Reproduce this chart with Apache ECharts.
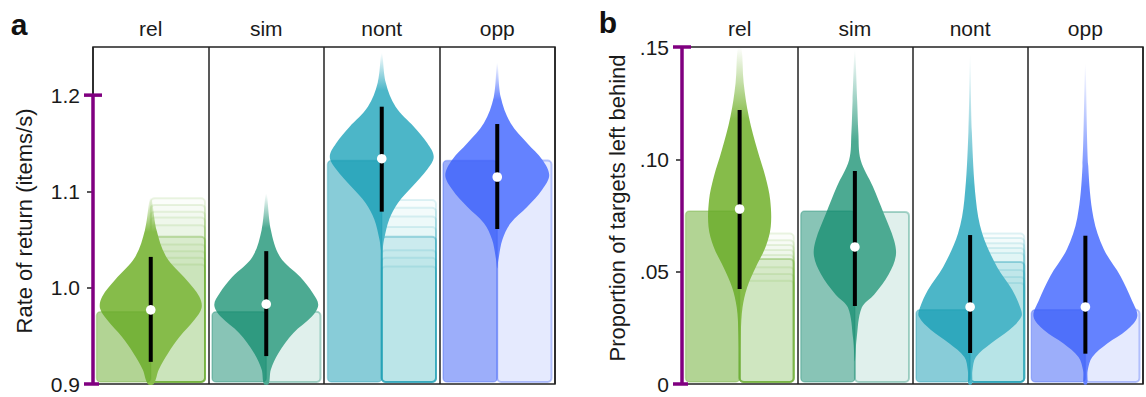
<!DOCTYPE html>
<html><head><meta charset="utf-8">
<script src="https://cdn.jsdelivr.net/npm/echarts@6/dist/echarts.min.js"></script>
<style>html,body{margin:0;padding:0;background:#fff}#c{width:1146px;height:397px}</style>
</head><body><div id="c"></div>
<script>
// ---------- data ----------
const categories = ['rel', 'sim', 'nont', 'opp'];
const barColors = ['#65a929', '#11896d', '#1199b1', '#395df5'];
const violinColors = ['#86bc4a', '#4caa92', '#4cb6c8', '#6482ff'];

// Panel a : rate of return
const aTickValues = [0.9, 1.0, 1.1, 1.2];
const aTickLabels = ['0.9', '1.0', '1.1', '1.2'];
const aAxisSpan = [0.9, 1.2];
const aMedian = [0.977, 0.983, 1.134, 1.115];
const aLow = [0.923, 0.929, 1.079, 1.061];
const aHigh = [1.032, 1.038, 1.188, 1.170];
const aLeftBar = [0.975, 0.975, 1.132, 1.132];
const aRightBar = [1.053, 0.975, 1.053, 1.132];
const aGhosts = [
  [1.093, 1.086, 1.079, 1.073, 1.065, 1.045, 1.038, 1.031, 1.024],
  [],
  [1.091, 1.083, 1.074, 1.063, 1.039, 1.031, 1.022],
  []
];
const aViolinFade = [1.058, 1.062, 1.205, 1.195];
const aViolins = [
  [[0.9, 0.05], [0.915, 0.14], [0.932, 0.30], [0.949, 0.50], [0.967, 0.76], [0.979, 0.88], [0.991, 0.84], [1.008, 0.62], [1.032, 0.27], [1.060, 0.10], [1.094, 0]],
  [[0.9, 0.04], [0.915, 0.08], [0.932, 0.21], [0.953, 0.47], [0.970, 0.79], [0.982, 0.90], [0.994, 0.81], [1.011, 0.59], [1.032, 0.24], [1.060, 0.08], [1.098, 0]],
  [[1.036, 0], [1.050, 0.04], [1.071, 0.13], [1.088, 0.28], [1.105, 0.53], [1.123, 0.79], [1.136, 0.90], [1.150, 0.79], [1.167, 0.56], [1.188, 0.24], [1.213, 0.07], [1.244, 0]],
  [[1.020, 0], [1.029, 0.02], [1.050, 0.09], [1.067, 0.23], [1.084, 0.52], [1.102, 0.78], [1.117, 0.90], [1.133, 0.78], [1.150, 0.52], [1.171, 0.23], [1.198, 0.06], [1.234, 0]]
];

// Panel b : proportion of targets left behind
const bTickValues = [0, 0.05, 0.10, 0.15];
const bTickLabels = ['0', '.05', '.10', '.15'];
const bAxisSpan = [0, 0.15];
const bMedian = [0.0779, 0.061, 0.0343, 0.0343];
const bLow = [0.0423, 0.0347, 0.0138, 0.0135];
const bHigh = [0.122, 0.0948, 0.0663, 0.066];
const bLeftBar = [0.077, 0.077, 0.033, 0.033];
const bRightBar = [0.0556, 0.0766, 0.0543, 0.033];
const bGhosts = [
  [0.067, 0.064, 0.0619, 0.0596, 0.0574, 0.052, 0.049, 0.046],
  [],
  [0.067, 0.065, 0.0627, 0.0605, 0.0583, 0.0507, 0.0476, 0.045],
  []
];
const bViolinFade = [0.118, 0.108, 0.088, 0.088];
const bViolins = [
  [[0.010, 0], [0.023, 0.02], [0.034, 0.05], [0.043, 0.13], [0.052, 0.28], [0.061, 0.45], [0.070, 0.54], [0.082, 0.53], [0.092, 0.45], [0.104, 0.31], [0.119, 0.16], [0.134, 0.07], [0.150, 0.03]],
  [[0.010, 0], [0.020, 0.03], [0.034, 0.12], [0.040, 0.34], [0.049, 0.59], [0.057, 0.71], [0.064, 0.68], [0.076, 0.50], [0.088, 0.31], [0.0997, 0.10], [0.112, 0.06], [0.126, 0.04], [0.149, 0]],
  [[0, 0.03], [0.006, 0.04], [0.012, 0.10], [0.018, 0.36], [0.024, 0.68], [0.030, 0.89], [0.034, 0.87], [0.042, 0.73], [0.052, 0.47], [0.067, 0.21], [0.082, 0.10], [0.112, 0.03], [0.147, 0]],
  [[0, 0.03], [0.006, 0.04], [0.012, 0.12], [0.018, 0.38], [0.024, 0.72], [0.030, 0.90], [0.037, 0.81], [0.048, 0.61], [0.060, 0.32], [0.074, 0.14], [0.097, 0.05], [0.143, 0]]
];

// ---------- rendering ----------
const FONT = "'Liberation Sans', Arial, sans-serif";
const TEXT = '#1a1a1a';
const PURPLE = '#800080';

function rgba(hex, a) {
  const n = parseInt(hex.slice(1), 16);
  return 'rgba(' + (n >> 16 & 255) + ',' + (n >> 8 & 255) + ',' + (n & 255) + ',' + a + ')';
}

function makePanel(P) {
  return function (params, api) {
    const i = api.value(0);
    const band = api.size([1, 0])[0];
    const base = api.coord([i, P.axisMin]);
    const cx = base[0];
    const yBase = base[1] - 2;
    const right = cx + band / 2 - 3.5;
    const left = cx - band / 2 + 3.5;
    const Y = v => api.coord([i, v])[1];
    const col = barColors[i];
    const ch = [];
    P.ghosts[i].forEach(g => {
      ch.push({ type: 'rect', shape: { x: cx, y: Y(g), width: right - cx, height: yBase - Y(g), r: 4 },
        style: { fill: rgba(col, 0.025), stroke: rgba(col, 0.13), lineWidth: 2 } });
    });
    ch.push({ type: 'rect', shape: { x: cx, y: Y(P.right[i]), width: right - cx, height: yBase - Y(P.right[i]), r: 4 },
      style: { fill: rgba(col, 0.13), stroke: rgba(col, 0.35), lineWidth: 2 } });
    const prof = P.violins[i];
    const pts = [];
    prof.forEach(p => pts.push([cx + p[1] * band / 2, Y(p[0])]));
    for (let k = prof.length - 1; k >= 0; k--) {
      if (prof[k][1] === 0) continue;
      pts.push([cx - prof[k][1] * band / 2, Y(prof[k][0])]);
    }
    const vc = violinColors[i];
    const topY = Y(prof[prof.length - 1][0]);
    const fadeY = Y(P.fade[i]);
    ch.push({ type: 'polygon', shape: { points: pts, smooth: 0.35 },
      style: { fill: new echarts.graphic.LinearGradient(0, topY, 0, fadeY, [
        { offset: 0, color: rgba(vc, 0.0) }, { offset: 1, color: rgba(vc, 1) }], true) } });
    ch.push({ type: 'rect', shape: { x: left, y: Y(P.left[i]), width: cx - left, height: yBase - Y(P.left[i]), r: 4 },
      style: { fill: rgba(col, 0.5), stroke: rgba(col, 0.3), lineWidth: 1.5 } });
    ch.push({ type: 'line', shape: { x1: cx, y1: Y(P.low[i]), x2: cx, y2: Y(P.high[i]) },
      style: { stroke: '#000', lineWidth: 4 } });
    ch.push({ type: 'circle', shape: { cx: cx, cy: Y(P.med[i]), r: 4.8 }, style: { fill: '#fff' } });
    return { type: 'group', children: ch };
  };
}

function makeAxis(span) {
  return function (params, api) {
    const band = api.size([1, 0])[0];
    const p0 = api.coord([0, span[0]]);
    const p1 = api.coord([0, span[1]]);
    const x = p0[0] - band / 2;
    const st = { stroke: PURPLE, lineWidth: 3.5 };
    return { type: 'group', children: [
      { type: 'line', shape: { x1: x, y1: p0[1], x2: x, y2: p1[1] }, style: st },
      { type: 'line', shape: { x1: x - 9, y1: p1[1], x2: x + 9, y2: p1[1] }, style: st },
      { type: 'line', shape: { x1: x - 9, y1: p0[1], x2: x + 6, y2: p0[1] }, style: st }
    ] };
  };
}

const panelA = { axisMin: 0.9, ghosts: aGhosts, right: aRightBar, left: aLeftBar, violins: aViolins,
  fade: aViolinFade, low: aLow, high: aHigh, med: aMedian };
const panelB = { axisMin: 0, ghosts: bGhosts, right: bRightBar, left: bLeftBar, violins: bViolins,
  fade: bViolinFade, low: bLow, high: bHigh, med: bMedian };

function xAx(g) {
  return { type: 'category', gridIndex: g, data: categories, position: 'top',
    axisLine: { show: false }, axisTick: { show: false },
    axisLabel: { fontSize: 21, color: TEXT, margin: 8, fontFamily: FONT },
    splitLine: { show: true, lineStyle: { color: '#222', width: 1.5 } } };
}
function yAx(g, min, max, vals, labels) {
  return { type: 'value', gridIndex: g, min: min, max: max,
    axisLine: { show: false }, splitLine: { show: false },
    axisTick: { show: true, customValues: vals, length: 6, lineStyle: { color: '#222', width: 1.5 } },
    axisLabel: { customValues: vals, fontSize: 21, color: TEXT, margin: 13, fontFamily: FONT,
      formatter: v => { const k = vals.findIndex(t => Math.abs(t - v) < 1e-9); return k >= 0 ? labels[k] : ''; } } };
}

const chart = echarts.init(document.getElementById('c'), null, { renderer: 'svg' });
chart.setOption({
  animation: false,
  backgroundColor: '#fff',
  grid: [
    { left: 93, top: 47, width: 462, height: 337, show: true, borderColor: '#222', borderWidth: 1.5, backgroundColor: 'transparent' },
    { left: 682, top: 47, width: 461, height: 337, show: true, borderColor: '#222', borderWidth: 1.5, backgroundColor: 'transparent' }
  ],
  xAxis: [xAx(0), xAx(1)],
  yAxis: [yAx(0, 0.9, 1.25, aTickValues, aTickLabels), yAx(1, 0, 0.15, bTickValues, bTickLabels)],
  graphic: [
    { type: 'text', x: 19, y: 24, style: { text: 'a', fontSize: 30, fontWeight: 'bold', fill: '#111', fontFamily: FONT, align: 'center', verticalAlign: 'middle' } },
    { type: 'text', x: 608, y: 22, style: { text: 'b', fontSize: 30, fontWeight: 'bold', fill: '#111', fontFamily: FONT, align: 'center', verticalAlign: 'middle' } },
    { type: 'text', x: 24, y: 221, rotation: Math.PI / 2, style: { text: 'Rate of return (items/s)', fontSize: 22, fill: TEXT, fontFamily: FONT, align: 'center', verticalAlign: 'middle' } },
    { type: 'text', x: 617, y: 208, rotation: Math.PI / 2, style: { text: 'Proportion of targets left behind', fontSize: 22, fill: TEXT, fontFamily: FONT, align: 'center', verticalAlign: 'middle' } }
  ],
  series: [
    { type: 'custom', xAxisIndex: 0, yAxisIndex: 0, renderItem: makePanel(panelA), encode: { x: 0, y: 1 },
      data: categories.map((c, i) => [i, aMedian[i]]), z: 2 },
    { type: 'custom', xAxisIndex: 1, yAxisIndex: 1, renderItem: makePanel(panelB), encode: { x: 0, y: 1 },
      data: categories.map((c, i) => [i, bMedian[i]]), z: 2 },
    { type: 'custom', xAxisIndex: 0, yAxisIndex: 0, renderItem: makeAxis(aAxisSpan), encode: { x: 0, y: 1 },
      data: [[0, aAxisSpan[0]]], z: 5 },
    { type: 'custom', xAxisIndex: 1, yAxisIndex: 1, renderItem: makeAxis(bAxisSpan), encode: { x: 0, y: 1 },
      data: [[0, bAxisSpan[0]]], z: 5 }
  ]
});
</script>
</body></html>
